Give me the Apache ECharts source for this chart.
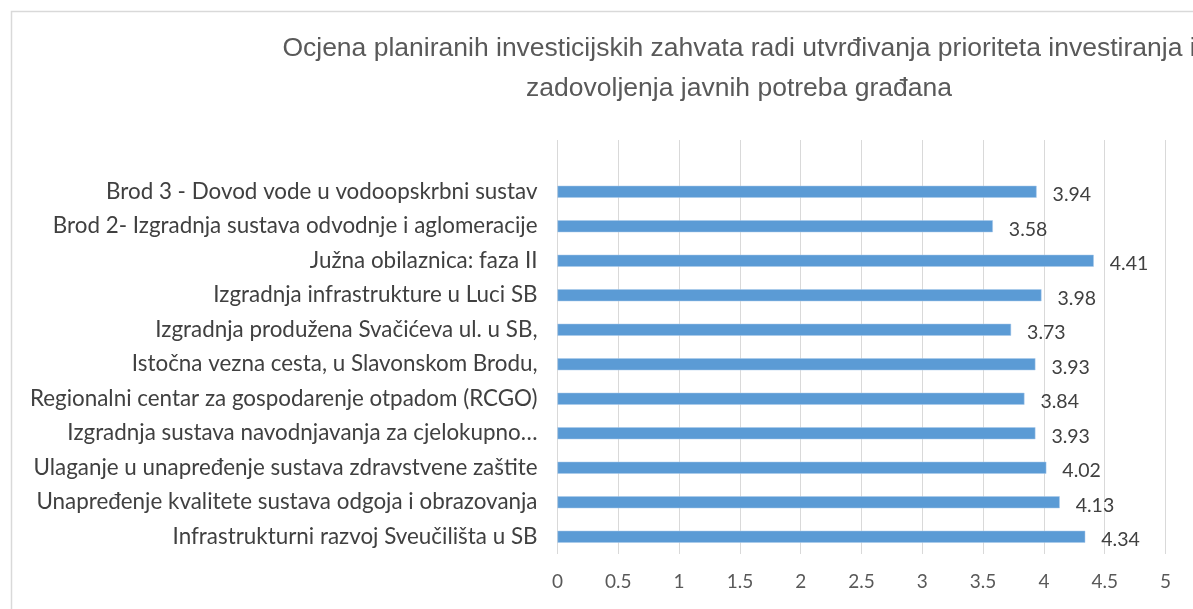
<!DOCTYPE html>
<html>
<head>
<meta charset="utf-8">
<script src="https://cdn.jsdelivr.net/npm/echarts@6/dist/echarts.min.js"></script>
<style>
  html, body { margin: 0; padding: 0; background: #fff; }
  #main { width: 1193px; height: 609px; }
</style>
</head>
<body>
<div id="main"></div>
<script>
// kategorije odozdo prema gore
var categories = [
  'Infrastrukturni razvoj Sveučilišta u SB',
  'Unapređenje kvalitete sustava odgoja i obrazovanja',
  'Ulaganje u unapređenje sustava zdravstvene zaštite',
  'Izgradnja sustava navodnjavanja za cjelokupno…',
  'Regionalni centar za gospodarenje otpadom (RCGO)',
  'Istočna vezna cesta, u Slavonskom Brodu,',
  'Izgradnja produžena Svačićeva ul. u SB,',
  'Izgradnja infrastrukture u Luci SB',
  'Južna obilaznica: faza II',
  'Brod 2- Izgradnja sustava odvodnje i aglomeracije',
  'Brod 3 - Dovod vode u vodoopskrbni sustav'
];
var ocjene = [4.34, 4.13, 4.02, 3.93, 3.84, 3.93, 3.73, 3.98, 4.41, 3.58, 3.94];
var titleLines = [
  'Ocjena planiranih investicijskih zahvata radi utvrđivanja prioriteta investiranja i',
  'zadovoljenja javnih potreba građana'
];

var myChart = echarts.init(document.getElementById('main'));
myChart.setOption({
  animation: false,
  title: {
    text: titleLines.join('\n'),
    left: 734,
    textAlign: 'center',
    top: 24,
    textStyle: {
      fontFamily: 'Liberation Sans',
      fontWeight: 'normal',
      fontSize: 26.5,
      lineHeight: 40,
      color: '#595959'
    }
  },
  graphic: [{
    type: 'rect',
    shape: { x: 11.5, y: 11.5, width: 1300, height: 700 },
    style: { fill: 'none', stroke: '#d9d9d9', lineWidth: 1.5 },
    silent: true
  }],
  grid: {
    left: 557.5,
    right: 27.5,
    top: 140,
    bottom: 55
  },
  xAxis: {
    type: 'value',
    min: 0,
    max: 5,
    interval: 0.5,
    axisLine: { show: false },
    axisTick: { show: false },
    splitLine: { lineStyle: { color: '#d9d9d9', width: 1 } },
    axisLabel: {
      margin: 18,
      fontFamily: 'Lato',
      fontSize: 19,
      color: '#595959'
    }
  },
  yAxis: {
    type: 'category',
    data: categories,
    max: categories.length,
    axisLine: { show: false },
    axisTick: { show: false },
    axisLabel: {
      margin: 20,
      fontFamily: 'Lato',
      fontSize: 22.4,
      color: '#404040'
    }
  },
  series: [{
    name: 'Ocjena',
    type: 'bar',
    data: ocjene,
    barWidth: 12,
    itemStyle: { color: '#5b9bd5', borderColor: '#a9c8ea', borderWidth: 0.5 },
    label: {
      show: true,
      position: 'right',
      distance: 16,
      offset: [0, 3],
      fontFamily: 'Lato',
      fontSize: 19.5,
      color: '#404040'
    }
  }]
});
</script>
</body>
</html>
